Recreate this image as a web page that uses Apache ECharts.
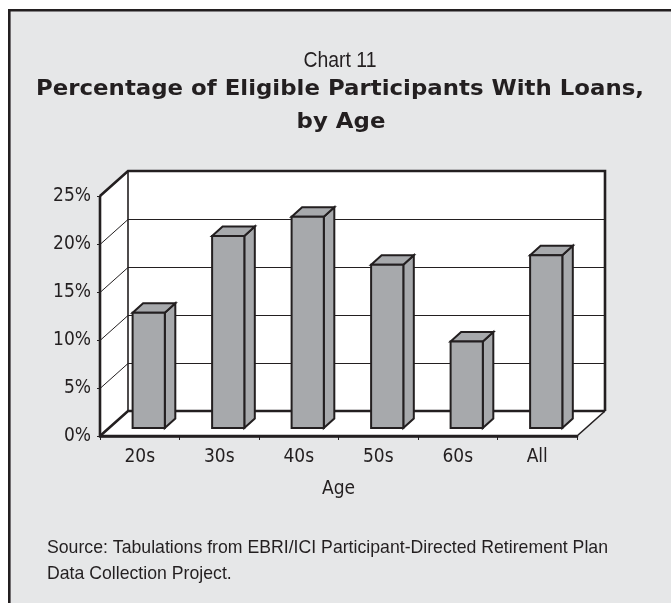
<!DOCTYPE html>
<html>
<head>
<meta charset="utf-8">
<script src="https://cdn.jsdelivr.net/npm/echarts@6/dist/echarts.min.js"></script>
<style>
html,body{margin:0;padding:0;background:#ffffff;}
#chart{width:671px;height:603px;}
</style>
</head>
<body>
<div id="chart"></div>
<script>
// ---- data ----
const categories = ['20s', '30s', '40s', '50s', '60s', 'All'];
const loanPct = [12, 20, 22, 17, 9, 18];
const yTicks = [0, 5, 10, 15, 20, 25];
const titleLine0 = 'Chart 11';
const titleLines = ['Percentage of Eligible Participants With Loans,', 'by Age'];
const xAxisName = 'Age';
const sourceLines = ['Source: Tabulations from EBRI/ICI Participant-Directed Retirement Plan', 'Data Collection Project.'];

const INK = '#231f20';
const BG = '#e6e7e8';
const BAR = '#a7a9ac';
const NARROW = "'Liberation Sans', Arial, sans-serif";
const BOLDF = "'DejaVu Sans', sans-serif";

// depth of the 3D box (pixels)
const DX = 28, DY = -25;

const mctx = document.createElement('canvas').getContext('2d');
function measure(text, font) { mctx.font = font; return mctx.measureText(text).width; }
function fitScale(text, font, targetW) { return targetW / measure(text, font); }

const chart = echarts.init(document.getElementById('chart'), null, {renderer: 'canvas'});

function wallsRender(params, api) {
  const cs = params.coordSys;
  const L = cs.x, R = cs.x + cs.width, T = cs.y, B = cs.y + cs.height;
  const ch = [];
  const white = {fill: '#ffffff', stroke: null};
  ch.push({type: 'polygon', shape: {points: [[L, T], [L + DX, T + DY], [L + DX, B + DY], [L, B]]}, style: white});
  ch.push({type: 'polygon', shape: {points: [[L + DX, T + DY], [R + DX, T + DY], [R + DX, B + DY], [L + DX, B + DY]]}, style: white});
  ch.push({type: 'polygon', shape: {points: [[L, B], [R, B], [R + DX, B + DY], [L + DX, B + DY]]}, style: white});
  yTicks.forEach(function (v) {
    const y = Math.round(api.coord([0, v])[1]) + 0.5;
    ch.push({type: 'polyline', shape: {points: [[L, y], [L + DX, y + DY], [R + DX, y + DY]]},
      style: {stroke: INK, lineWidth: 1, fill: null}});
  });
  const thick = {stroke: INK, lineWidth: 2.6, fill: null, lineJoin: 'miter'};
  const mid = {stroke: INK, lineWidth: 1.6, fill: null};
  ch.push({type: 'polyline', shape: {points: [[L, T], [L + DX, T + DY], [R + DX, T + DY], [R + DX, B + DY]]}, style: thick});
  ch.push({type: 'polyline', shape: {points: [[L, B], [L + DX, B + DY], [R + DX, B + DY]]}, style: thick});
  ch.push({type: 'polyline', shape: {points: [[L + DX, T + DY], [L + DX, B + DY]]}, style: mid});
  ch.push({type: 'polyline', shape: {points: [[R, B], [R + DX, B + DY]]}, style: mid});
  ch.push({type: 'polyline', shape: {points: [[L, T], [L, B], [R, B]]}, style: thick});
  return {type: 'group', children: ch};
}

function barRender(params, api) {
  const i = api.value(0), v = api.value(1);
  const base = api.coord([i, 0]);
  const top = api.coord([i, v]);
  const bw = api.size([1, 0])[0] * 0.405;
  const sx = DX * 0.32, sy = DY * 0.32;
  const ddx = DX * 0.375, ddy = DY * 0.38;
  const xl = base[0] + sx - bw / 2, xr = xl + bw;
  const yb = base[1] + sy, yt = top[1] + sy;
  const st = {fill: BAR, stroke: INK, lineWidth: 2, lineJoin: 'miter'};
  return {type: 'group', children: [
    {type: 'polygon', shape: {points: [[xr, yt], [xr + ddx, yt + ddy], [xr + ddx, yb + ddy], [xr, yb]]}, style: st},
    {type: 'polygon', shape: {points: [[xl, yt], [xl + ddx, yt + ddy], [xr + ddx, yt + ddy], [xr, yt]]}, style: st},
    {type: 'polygon', shape: {points: [[xl, yt], [xr, yt], [xr, yb], [xl, yb]]}, style: st}
  ]};
}

const fChart = '22px ' + NARROW;
const fTitle = 'bold 22px ' + BOLDF;
const fSrc = '18.5px ' + NARROW;
const sChart = fitScale(titleLine0, fChart, 73);
const sTitle = fitScale(titleLines[0], fTitle, 608);
const sSrc = fitScale(sourceLines[0], fSrc, 561);

const option = {
  backgroundColor: '#ffffff',
  animation: false,
  graphic: [
    {type: 'rect', left: 8, top: 9, shape: {x: 0, y: 0, width: 720, height: 720}, z: -10,
      style: {fill: BG, stroke: INK, lineWidth: 2.6}},
    {type: 'text', x: 340, y: 61, scaleX: sChart, z: 10, style: {text: titleLine0, font: fChart, fill: INK, textAlign: 'center', textVerticalAlign: 'middle'}},
    {type: 'text', x: 340, y: 89, scaleX: sTitle, z: 10, style: {text: titleLines[0], font: fTitle, fill: INK, textAlign: 'center', textVerticalAlign: 'middle'}},
    {type: 'text', x: 341, y: 122, scaleX: sTitle, z: 10, style: {text: titleLines[1], font: fTitle, fill: INK, textAlign: 'center', textVerticalAlign: 'middle'}},
    {type: 'text', x: 47, y: 548, scaleX: sSrc, z: 10, style: {text: sourceLines[0], font: fSrc, fill: INK, textAlign: 'left', textVerticalAlign: 'middle'}},
    {type: 'text', x: 47, y: 574, scaleX: sSrc, z: 10, style: {text: sourceLines[1], font: fSrc, fill: INK, textAlign: 'left', textVerticalAlign: 'middle'}}
  ],
  grid: {left: 100, right: 94, top: 196, bottom: 167, containLabel: false},
  xAxis: {
    type: 'category', data: categories, boundaryGap: true,
    name: xAxisName, nameLocation: 'middle', nameGap: 44,
    nameTextStyle: {fontFamily: "'DejaVu Sans'", fontStyle: 'condensed', fontSize: 19, color: INK},
    axisLine: {show: true, lineStyle: {color: INK, width: 2.6}},
    axisTick: {show: true, length: 4, lineStyle: {color: INK, width: 1}},
    axisLabel: {fontFamily: "'DejaVu Sans'", fontStyle: 'condensed', fontSize: 19, color: INK, margin: 12},
    splitLine: {show: false}
  },
  yAxis: {
    type: 'value', min: 0, max: 25, interval: 5,
    axisLine: {show: true, lineStyle: {color: INK, width: 2.6}},
    axisTick: {show: true, length: 3, lineStyle: {color: INK, width: 1}},
    axisLabel: {fontFamily: "'DejaVu Sans'", fontStyle: 'condensed', fontSize: 19, color: INK, margin: 9, formatter: '{value}%'},
    splitLine: {show: false}
  },
  series: [
    {type: 'custom', name: 'walls', renderItem: wallsRender, data: [[0, 0]], clip: false, silent: true, z: 1},
    {type: 'custom', name: 'Loans', renderItem: barRender, data: categories.map(function (c, i) { return [i, loanPct[i]]; }), clip: false, z: 3}
  ]
};
chart.setOption(option);
</script>
</body>
</html>
